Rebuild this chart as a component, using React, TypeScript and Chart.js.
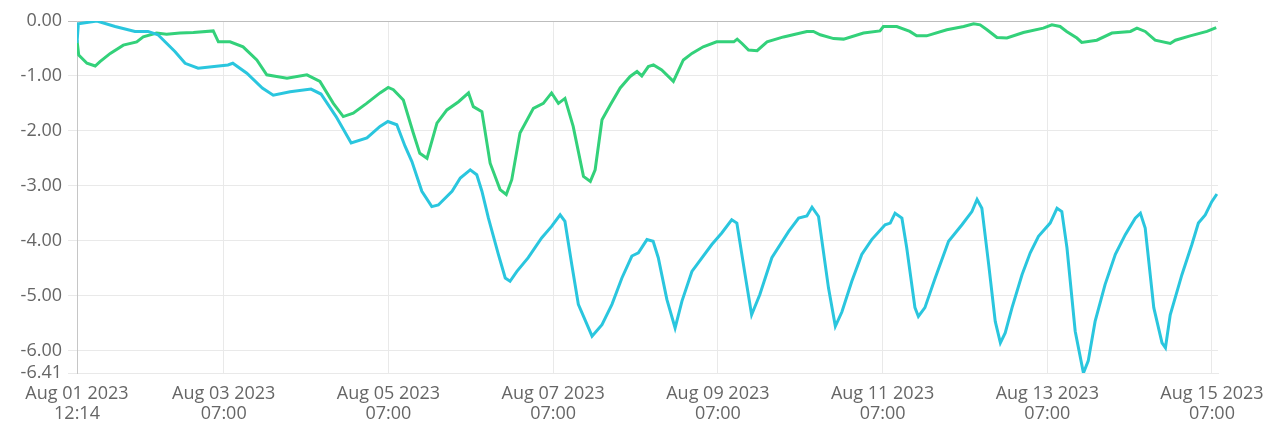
import React, { useEffect, useRef } from "react";
import { Chart, registerables } from "chart.js";

Chart.register(...registerables);

// Time range (UTC)
const START = "2023-08-01T12:14:00Z";
const END = "2023-08-15T08:45:00Z";

// X tick positions
const xTickTimes = [
  "2023-08-01T12:14:00Z",
  "2023-08-03T07:00:00Z",
  "2023-08-05T07:00:00Z",
  "2023-08-07T07:00:00Z",
  "2023-08-09T07:00:00Z",
  "2023-08-11T07:00:00Z",
  "2023-08-13T07:00:00Z",
  "2023-08-15T07:00:00Z",
];

// Y tick values
const yTickValues = [0, -1, -2, -3, -4, -5, -6, -6.41];

const monthNames = ["Jan", "Feb", "Mar", "Apr", "May", "Jun", "Jul", "Aug", "Sep", "Oct", "Nov", "Dec"];

// Cyan series: hours after START, values
const cyanHours = [
  0, 0.4, 5.8, 11.1, 16.9, 20.7, 23.6, 28.6, 31.5, 35.3, 44.0, 45.4, 49.5, 54.0, 57.2, 62.1, 68.2, 71.1, 75.5,
  79.9, 84.5, 88.3, 90.6, 93.2, 95.6, 97.6, 100.5, 103.4, 105.3, 109.3, 111.7, 114.6, 116.5, 118.0, 119.9,
  122.8, 124.8, 126.2, 128.2, 131.5, 135.4, 138.3, 140.8, 142.2, 144.2, 146.1, 150.1, 153.0, 155.9, 158.8,
  161.7, 163.6, 166.1, 167.9, 169.4, 171.9, 174.3, 176.3, 179.2, 185.0, 187.9, 190.8, 192.3, 194.7, 196.6,
  199.0, 202.5, 207.4, 210.3, 212.7, 214.2, 216.1, 219.0, 221.0, 222.9, 225.8, 228.7, 231.6, 235.5, 237.0,
  238.4, 240.4, 241.8, 244.2, 245.2, 247.1, 250.1, 254.0, 257.9, 260.8, 262.3, 263.7, 265.7, 267.6, 269.1,
  270.5, 272.5, 275.4, 277.8, 280.2, 283.6, 285.6, 287.0, 288.5, 290.9, 293.3, 294.7, 296.7, 299.6, 302.6,
  305.5, 308.4, 309.9, 311.3, 313.8, 316.2, 317.2, 318.6, 322.0, 324.9, 326.8, 328.8, 330.7, 332.2,
];
const cyanValues = [
  -0.4, -0.05, 0, -0.1, -0.19, -0.19, -0.25, -0.56, -0.77, -0.86, -0.8, -0.77, -0.95, -1.22, -1.35, -1.29,
  -1.24, -1.33, -1.74, -2.22, -2.13, -1.92, -1.83, -1.89, -2.28, -2.56, -3.1, -3.38, -3.35, -3.1, -2.86,
  -2.71, -2.8, -3.1, -3.59, -4.25, -4.68, -4.74, -4.56, -4.31, -3.95, -3.74, -3.53, -3.65, -4.44, -5.16,
  -5.74, -5.53, -5.16, -4.68, -4.28, -4.22, -3.98, -4.01, -4.31, -5.07, -5.59, -5.1, -4.56, -4.07, -3.86,
  -3.62, -3.68, -4.62, -5.35, -4.98, -4.31, -3.83, -3.59, -3.55, -3.39, -3.56, -4.86, -5.56, -5.3, -4.74,
  -4.25, -3.98, -3.71, -3.68, -3.5, -3.59, -4.13, -5.22, -5.38, -5.22, -4.68, -4.01, -3.71, -3.47, -3.25,
  -3.41, -4.44, -5.47, -5.86, -5.68, -5.22, -4.62, -4.22, -3.92, -3.68, -3.41, -3.47, -4.13, -5.65, -6.41,
  -6.19, -5.47, -4.8, -4.25, -3.89, -3.59, -3.5, -3.77, -5.22, -5.86, -5.95, -5.35, -4.62, -4.07, -3.68,
  -3.53, -3.29, -3.15,
];

// Green series: hours after START, values
const greenHours = [
  0, 0.5, 2.9, 5.3, 6.7, 9.7, 13.5, 17.4, 19.3, 23.2, 26.1, 30.0, 33.9, 39.7, 41.2, 44.6, 48.4, 52.4, 55.3,
  58.2, 61.2, 67.0, 70.8, 74.7, 77.6, 80.5, 84.4, 88.3, 90.7, 92.2, 95.1, 98.0, 99.9, 102.0, 104.9, 107.8,
  111.2, 114.1, 115.5, 118.0, 120.4, 123.3, 125.1, 126.7, 129.1, 133.0, 135.9, 138.3, 140.3, 142.2, 144.6,
  147.6, 149.6, 151.0, 153.0, 155.4, 158.3, 161.2, 163.2, 164.6, 166.5, 168.0, 170.4, 173.8, 176.7, 179.2,
  182.5, 186.4, 191.4, 192.4, 193.8, 195.7, 198.2, 201.1, 205.9, 212.7, 214.6, 216.6, 220.5, 223.4, 229.2,
  234.0, 235.0, 238.9, 242.7, 244.7, 247.6, 253.5, 258.4, 261.3, 263.2, 265.2, 268.1, 271.0, 275.8, 281.6,
  284.1, 286.5, 288.4, 291.4, 292.8, 297.2, 301.6, 307.0, 308.9, 311.3, 314.2, 318.6, 320.1, 324.4, 329.3,
  332.0,
];
const greenValues = [
  -0.35, -0.62, -0.77, -0.82, -0.74, -0.59, -0.44, -0.38, -0.29, -0.22, -0.24, -0.22, -0.21, -0.18, -0.38,
  -0.38, -0.47, -0.71, -0.98, -1.01, -1.04, -0.98, -1.1, -1.5, -1.74, -1.68, -1.5, -1.31, -1.21, -1.25,
  -1.44, -2.04, -2.41, -2.5, -1.86, -1.62, -1.47, -1.31, -1.56, -1.65, -2.59, -3.07, -3.16, -2.89, -2.04,
  -1.59, -1.5, -1.31, -1.5, -1.41, -1.92, -2.83, -2.92, -2.71, -1.8, -1.53, -1.22, -1.01, -0.92, -1.0, -0.83,
  -0.8, -0.89, -1.1, -0.71, -0.59, -0.47, -0.38, -0.38, -0.33, -0.41, -0.53, -0.54, -0.38, -0.29, -0.19,
  -0.19, -0.25, -0.32, -0.33, -0.22, -0.18, -0.1, -0.1, -0.19, -0.27, -0.27, -0.16, -0.1, -0.05, -0.07,
  -0.16, -0.3, -0.31, -0.21, -0.13, -0.07, -0.1, -0.19, -0.31, -0.39, -0.35, -0.22, -0.19, -0.13, -0.19,
  -0.35, -0.41, -0.35, -0.27, -0.19, -0.12,
];

const pad2 = (n: number) => (n < 10 ? "0" + n : "" + n);

function formatTick(v: number): string[] {
  const d = new Date(v);
  return [
    `${monthNames[d.getUTCMonth()]} ${pad2(d.getUTCDate())} ${d.getUTCFullYear()}`,
    `${pad2(d.getUTCHours())}:${pad2(d.getUTCMinutes())}`,
  ];
}

export default function App() {
  const canvasRef = useRef<HTMLCanvasElement | null>(null);

  useEffect(() => {
    if (!canvasRef.current) return;
    const startMs = Date.parse(START);
    const toPoints = (hs: number[], vs: number[]) =>
      hs.map((h, i) => ({ x: startMs + h * 3600000, y: vs[i] }));
    const font = { family: '"Open Sans", "Noto Sans", sans-serif', size: 18, lineHeight: 1.12 };

    const chart = new Chart(canvasRef.current, {
      type: "line",
      data: {
        datasets: [
          {
            label: "Cyan",
            data: toPoints(cyanHours, cyanValues),
            borderColor: "#2ac6de",
            backgroundColor: "#2ac6de",
            borderWidth: 3,
            pointRadius: 0,
            tension: 0,
            fill: false,
          },
          {
            label: "Green",
            data: toPoints(greenHours, greenValues),
            borderColor: "#33d17a",
            backgroundColor: "#33d17a",
            borderWidth: 3,
            pointRadius: 0,
            tension: 0,
            fill: false,
          },
        ],
      },
      options: {
        responsive: true,
        maintainAspectRatio: false,
        animation: false,
        layout: { padding: { left: 0, top: 21, right: 57, bottom: 0 } },
        plugins: { legend: { display: false }, tooltip: { enabled: false } },
        scales: {
          x: {
            type: "linear",
            min: startMs,
            max: Date.parse(END),
            afterBuildTicks: (s: any) => {
              s.ticks = xTickTimes.map((t) => ({ value: Date.parse(t) }));
            },
            afterFit: (s: any) => {
              s.height = 54;
            },
            grid: { color: "#e9e9e9", drawTicks: false },
            border: { color: "#e9e9e9" },
            ticks: {
              autoSkip: false,
              maxRotation: 0,
              minRotation: 0,
              padding: 11,
              color: "#666666",
              font,
              callback: (v: any) => formatTick(Number(v)),
            },
          },
          y: {
            type: "linear",
            min: -6.41,
            max: 0,
            afterBuildTicks: (s: any) => {
              s.ticks = yTickValues.map((v) => ({ value: v }));
            },
            afterFit: (s: any) => {
              s.width = 77;
            },
            grid: {
              color: (ctx: any) => (ctx.tick && ctx.tick.value === 0 ? "#bdbdbd" : "#e9e9e9"),
              tickLength: 9,
            },
            border: { color: "#c6c6c6" },
            ticks: {
              padding: 6,
              color: "#666666",
              font,
              callback: (v: any) => Number(v).toFixed(2),
            },
          },
        },
      },
    });
    return () => chart.destroy();
  }, []);

  return (
    <div style={{ position: "fixed", left: 0, top: 0, width: "1275px", height: "427px", background: "#fff" }}>
      <canvas ref={canvasRef} />
    </div>
  );
}
